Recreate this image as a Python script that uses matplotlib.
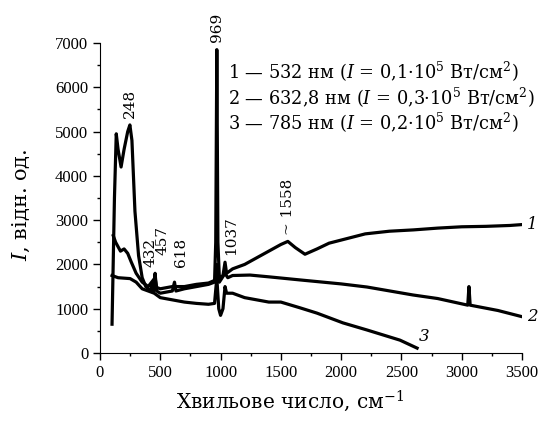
import matplotlib
matplotlib.use("Agg")
import matplotlib.pyplot as plt

# curve 1: 532 nm
x1 = [100, 120, 135, 150, 175, 200, 230, 248, 265, 290, 320, 350, 380, 420, 432, 445,
      457, 470, 500, 600, 618, 630, 700, 800, 900, 950, 960, 969, 978, 990, 1020, 1037,
      1050, 1100, 1200, 1300, 1400, 1500, 1558, 1620, 1700, 1800, 1900, 2000, 2200,
      2400, 2600, 2800, 3000, 3200, 3400, 3500]
y1 = [650, 3500, 4950, 4600, 4200, 4600, 5000, 5150, 4800, 3200, 2200, 1700, 1500, 1400,
      1550, 1400, 1800, 1400, 1350, 1400, 1600, 1400, 1450, 1500, 1550, 1600, 2500, 6850,
      2500, 1700, 1750, 2050, 1800, 1900, 2000, 2150, 2300, 2450, 2520, 2380, 2230, 2350,
      2480, 2550, 2690, 2750, 2780, 2820, 2850, 2860, 2880, 2900]

# curve 2: 632.8 nm
x2 = [110, 130, 170, 200, 230, 260, 300, 350, 400, 457, 470, 500, 600, 700, 800, 900,
      960, 969, 990, 1037, 1060, 1100, 1244, 1400, 1659, 2000, 2214, 2596, 2800, 3050,
      3060, 3070, 3300, 3500]
y2 = [2650, 2500, 2300, 2350, 2250, 2050, 1800, 1600, 1500, 1700, 1480, 1450, 1500, 1500,
      1550, 1580, 1650, 2000, 1600, 1800, 1700, 1750, 1760, 1720, 1650, 1560, 1490, 1310,
      1230, 1080, 1500, 1080, 960, 820]

# curve 3: 785 nm
x3 = [100, 150, 250, 300, 350, 400, 450, 500, 600, 700, 800, 900, 950, 969, 985, 1000,
      1020, 1037, 1050, 1100, 1200, 1400, 1500, 1659, 1800, 2015, 2214, 2488, 2630]
y3 = [1750, 1700, 1680, 1600, 1450, 1400, 1350, 1250, 1200, 1150, 1120, 1100, 1120, 1700,
      1000, 850, 1000, 1500, 1350, 1350, 1250, 1150, 1150, 1020, 900, 680, 520, 290, 110]

# peak labels: text x position and bottom y
peak_labels = ["248", "432", "457", "618", "969", "1037", "~ 1558"]
peak_text_x = [250, 415, 518, 672, 971, 1087, 1559]
peak_text_y = [5300, 1940, 2210, 1940, 7020, 2210, 2660]

legend_lines = [r"$\mathit{1}$ — 532 нм ($\mathit{I}$ = 0,1·10$^5$ Вт/см$^2$)",
                r"$\mathit{2}$ — 632,8 нм ($\mathit{I}$ = 0,3·10$^5$ Вт/см$^2$)",
                r"$\mathit{3}$ — 785 нм ($\mathit{I}$ = 0,2·10$^5$ Вт/см$^2$)"]
legend_y = [6345, 5758, 5194]

plt.rcParams['mathtext.fontset'] = 'dejavuserif'
serif = "DejaVu Serif"

fig = plt.figure(figsize=(5.41, 4.23), dpi=100)
ax = fig.add_axes([0.1848, 0.1655, 0.7801, 0.7328])

ax.plot(x1, y1, color="black", lw=2.3)
ax.plot(x2, y2, color="black", lw=2.3)
ax.plot(x3, y3, color="black", lw=2.3)

ax.set_xlim(0, 3500)
ax.set_ylim(0, 7000)
ax.spines["top"].set_visible(False)
ax.spines["right"].set_visible(False)
ax.set_xticks(range(0, 3501, 500))
ax.set_xticks(range(250, 3500, 500), minor=True)
ax.set_yticks(range(0, 7001, 1000))
ax.set_yticks(range(500, 7000, 1000), minor=True)
ax.tick_params(which="major", length=5, width=1, direction="out")
ax.tick_params(which="minor", length=2.5, width=1, direction="out")
for lab in ax.get_xticklabels() + ax.get_yticklabels():
    lab.set_fontfamily("Liberation Serif")
    lab.set_fontsize(12)

# curve numbers
ax.text(3540, 2900, "1", fontsize=12, family=serif, style="italic", va="center")
ax.text(3540, 820, "2", fontsize=12, family=serif, style="italic", va="center")
ax.text(2640, 380, "3", fontsize=12, family=serif, style="italic", va="center")

for px, lab, ty in zip(peak_text_x, peak_labels, peak_text_y):
    ax.text(px, ty, lab, rotation=90, ha="center", va="bottom", fontsize=11,
            family=serif, clip_on=False)

for line, ly in zip(legend_lines, legend_y):
    ax.text(1062, ly, line, fontsize=12.8, family=serif, va="center")

ax.set_xlabel(r"Хвильове число, см$^{-1}$", fontsize=14.5, family=serif)
ax.xaxis.set_label_coords(0.45, -0.115)
ax.set_ylabel(r"$\mathit{I}$, відн. од.", fontsize=15, family=serif)
ax.yaxis.set_label_coords(-0.16, 0.477)

fig.savefig("out.png", dpi=100)
